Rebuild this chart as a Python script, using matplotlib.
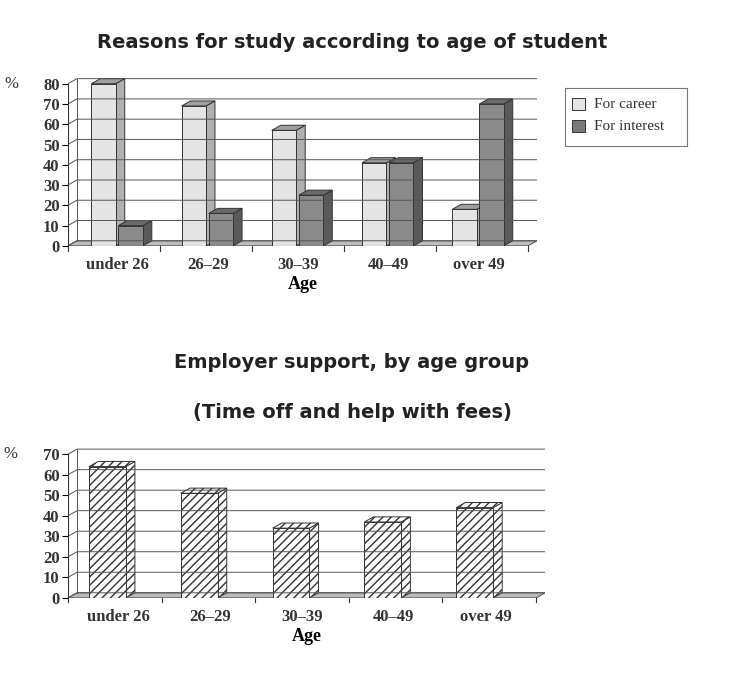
import matplotlib.pyplot as plt
from matplotlib.patches import Polygon, Rectangle
import numpy as np

ages = ["under 26", "26\u201329", "30\u201339", "40\u201349", "over 49"]
career = [80, 69, 57, 41, 18]
interest = [10, 16, 25, 41, 70]
support = [64, 51, 34, 37, 44]

SERIF = "Liberation Serif"
W, H = 746, 681
fig = plt.figure(figsize=(W / 100, H / 100), dpi=100)


def box3d(ax, x, w, h, dx, dy, face, side, top, hatch=None):
    kw = dict(edgecolor="#333333", linewidth=0.7, hatch=hatch)
    ax.add_patch(Polygon([(x + w, 0), (x + w + dx, dy), (x + w + dx, h + dy), (x + w, h)],
                         facecolor=side, **kw))
    ax.add_patch(Polygon([(x, h), (x + dx, h + dy), (x + w + dx, h + dy), (x + w, h)],
                         facecolor=top, **kw))
    ax.add_patch(Rectangle((x, 0), w, h, facecolor=face, **kw))


def setup(ax, ymax, step, dx, dy):
    ax.set_xlim(-0.55, 4.55 + dx)
    ax.set_ylim(0, ymax + dy + 0.5)
    for s in ax.spines.values():
        s.set_visible(False)
    ax.set_yticks(np.arange(0, ymax + 1, step))
    ax.set_yticklabels([str(v) for v in np.arange(0, ymax + 1, step)],
                       fontfamily=SERIF, fontsize=12, fontweight="bold", color="#333333")
    ax.tick_params(axis="y", length=4, pad=2)
    x0, x1 = -0.55, 4.55
    for v in np.arange(0, ymax + 1, step):
        ax.plot([x0, x0 + dx, x1 + dx], [v, v + dy, v + dy], color="#555555", lw=0.7)
    ax.plot([x0, x0], [0, ymax], color="#333333", lw=0.8)
    ax.plot([x0 + dx, x0 + dx], [dy, ymax + dy], color="#555555", lw=0.7)
    ax.plot([x1 + dx, x1 + dx], [dy, ymax + dy], color="#555555", lw=0.7)
    ax.add_patch(Polygon([(x0, 0), (x0 + dx, dy), (x1 + dx, dy), (x1, 0)],
                         facecolor="#bbbbbb", edgecolor="#555555", lw=0.7))
    ax.plot([x0, x1], [0, 0], color="#333333", lw=0.8)
    for i in range(6):
        ax.plot([x0 + i * 1.02, x0 + i * 1.02], [0, -ymax * 0.03], color="#333333",
                lw=0.8, clip_on=False)
    ax.set_xticks(range(5))
    ax.set_xticklabels(ages, fontfamily=SERIF, fontsize=12, fontweight="bold", color="#333333")
    ax.tick_params(axis="x", length=0, pad=8)
    ax.text(-0.105, ymax / (ymax + dy + 0.5), "%", transform=ax.transAxes,
            fontfamily=SERIF, fontsize=12, va="center", ha="right", color="#333333")


# top chart
ax1 = fig.add_axes([0.091, 0.639, 0.629, 0.247])
dx, dy = 0.1, 2.5
setup(ax1, 80, 10, dx, dy)
bw = 0.27
for i in range(5):
    box3d(ax1, i - bw - 0.02, bw, career[i], dx, dy, "#e4e4e4", "#b0b0b0", "#a0a0a0")
    box3d(ax1, i + 0.01, bw, interest[i], dx, dy, "#8a8a8a", "#5a5a5a", "#6a6a6a")
ax1.set_xlabel("Age", fontfamily=SERIF, fontsize=13, fontweight="bold", labelpad=2)

leg = fig.add_axes([565 / W, 1 - 146 / H, 122 / W, 58 / H])
leg.set_xticks([]); leg.set_yticks([])
leg.set_xlim(0, 1); leg.set_ylim(0, 1)
for s in leg.spines.values():
    s.set_color("#777777")
leg.add_patch(Rectangle((0.06, 0.62), 0.1, 0.2, facecolor="#e4e4e4", edgecolor="#333333", lw=0.7))
leg.add_patch(Rectangle((0.06, 0.24), 0.1, 0.2, facecolor="#7a7a7a", edgecolor="#333333", lw=0.7))
leg.text(0.24, 0.72, "For career", fontfamily=SERIF, fontsize=11, va="center", color="#333333")
leg.text(0.24, 0.34, "For interest", fontfamily=SERIF, fontsize=11, va="center", color="#333333")

# bottom chart
ax2 = fig.add_axes([0.091, 0.122, 0.64, 0.22])
dx, dy = 0.1, 2.5
setup(ax2, 70, 10, dx, dy)
bw = 0.4
for i in range(5):
    box3d(ax2, i - 0.32, bw, support[i], dx, dy, "white", "white", "white", hatch="////")
ax2.set_xlabel("Age", fontfamily=SERIF, fontsize=13, fontweight="bold", labelpad=2)

fig.text(352 / W, 1 - 42 / H, "Reasons for study according to age of student",
         ha="center", va="center", fontsize=14, fontweight="bold", color="#222222")
fig.text(352 / W, 1 - 362 / H, "Employer support, by age group",
         ha="center", va="center", fontsize=14, fontweight="bold", color="#222222")
fig.text(352 / W, 1 - 412 / H, "(Time off and help with fees)",
         ha="center", va="center", fontsize=14, fontweight="bold", color="#222222")

fig.savefig("out.png", dpi=100)
